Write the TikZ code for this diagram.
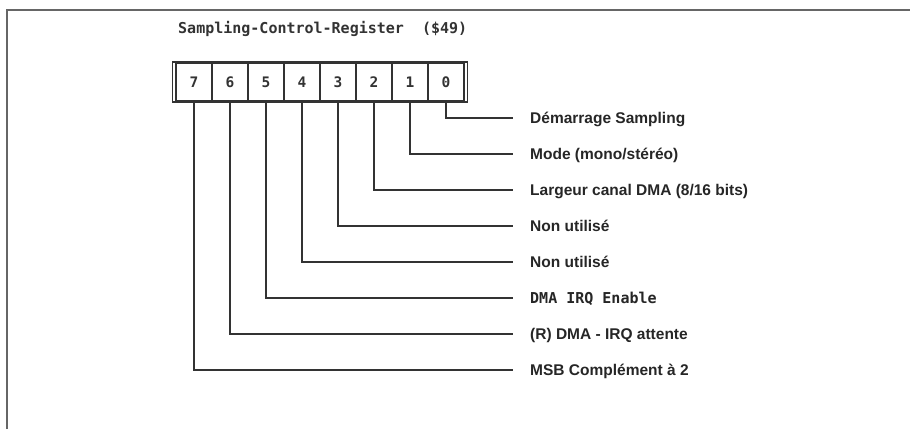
\documentclass[tikz,border=0pt]{standalone}
\usepackage{fontspec}
\setmainfont{Liberation Sans}
\newfontfamily\monofont{DejaVu Sans Mono}
\definecolor{ink}{HTML}{333333}
\definecolor{frame}{HTML}{666666}
\tikzset{
  cellbox/.style={draw=ink, line width=1.1pt, minimum width=36pt, minimum height=37pt, inner sep=0pt,
    font=\monofont\bfseries\fontsize{14.5}{15}\selectfont, text=ink},
  lbl/.style={anchor=west, inner xsep=0pt, xshift=17pt, text height=11pt, text depth=0pt,
    font=\bfseries\fontsize{15.5}{16}\selectfont, text=black!85},
  mlbl/.style={lbl, font=\monofont\bfseries\fontsize{15}{15}\selectfont},
  wire/.style={draw=ink, line width=1.1pt},
}
\begin{document}
\begin{tikzpicture}[x=1pt,y=-1pt]
\useasboundingbox (0,0) rectangle (910,429);
\fill[white] (0,0) rectangle (910,429);
% frame
\draw[frame, line width=1.6pt] (7,429) -- (7,10) -- (910,10);
% title
\node[anchor=west, inner sep=0pt, font=\monofont\bfseries\fontsize{15}{15}\selectfont, text=ink] (title) at (178,29) {Sampling-Control-Register\ \ (\$49)};
% register
\draw[ink, line width=1.3pt] (172.5,62) rectangle (467.5,102);
\foreach \b [count=\i from 0] in {7,6,5,4,3,2,1,0} {
  \node[cellbox] (c\b) at ({176+18+36*\i},82) {\b};
}
% labels
\node[lbl] (l0) at (513,118) {Démarrage Sampling};
\node[lbl] (l1) at (513,154) {Mode (mono/stéréo)};
\node[lbl] (l2) at (513,190) {Largeur canal DMA (8/16 bits)};
\node[lbl] (l3) at (513,226) {Non utilisé};
\node[lbl] (l4) at (513,262) {Non utilisé};
\node[mlbl] (l5) at (513,298) {DMA IRQ Enable};
\node[lbl] (l6) at (513,334) {(R) DMA - IRQ attente};
\node[lbl] (l7) at (513,370) {MSB Complément à 2};
\foreach \b in {0,...,7} {
  \draw[wire] (c\b.south) |- ([xshift=-17pt]l\b.west);
}
\end{tikzpicture}
\end{document}
